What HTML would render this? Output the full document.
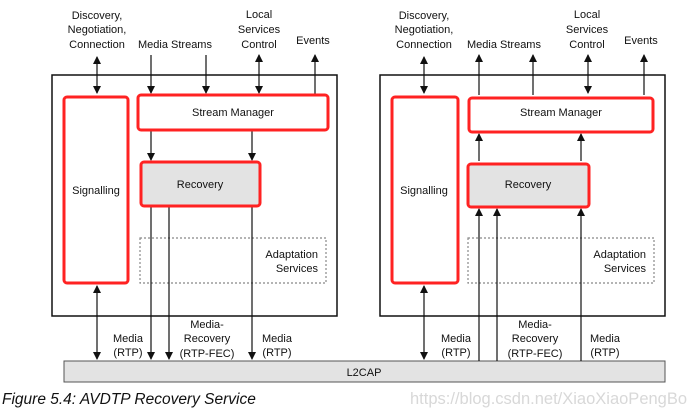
<!DOCTYPE html>
<html><head><meta charset="utf-8"><style>
html,body{margin:0;padding:0;background:#fff;}
svg{display:block;}
text{font-family:"Liberation Sans",sans-serif;fill:#111;}
</style></head><body>
<svg width="692" height="416" viewBox="0 0 692 416" xmlns="http://www.w3.org/2000/svg">
<defs>
<marker id="ah" markerWidth="8" markerHeight="10" refX="7" refY="4" orient="auto" markerUnits="userSpaceOnUse">
<path d="M0,0 L8,4 L0,8 z" fill="#111"/></marker>
<marker id="as" markerWidth="8" markerHeight="10" refX="1" refY="4" orient="auto" markerUnits="userSpaceOnUse">
<path d="M8,0 L0,4 L8,8 z" fill="#111"/></marker>
</defs>

<rect x="64" y="361" width="601" height="21" fill="#e3e3e3" stroke="#555" stroke-width="1"/>
<text x="364" y="376" font-size="11" text-anchor="middle">L2CAP</text>

<g stroke="#111" stroke-width="1.2" fill="none">
<rect x="52" y="75" width="285" height="241" stroke-width="1.5"/>
<rect x="140" y="238" width="186" height="45" stroke="#888" stroke-dasharray="2,2"/>
<line x1="97" y1="57" x2="97" y2="93" marker-start="url(#as)" marker-end="url(#ah)"/>
<line x1="151" y1="55" x2="151" y2="93" marker-end="url(#ah)"/>
<line x1="206" y1="55" x2="206" y2="93" marker-end="url(#ah)"/>
<line x1="259" y1="55" x2="259" y2="93" marker-start="url(#as)" marker-end="url(#ah)"/>
<line x1="315" y1="95" x2="315" y2="55" marker-end="url(#ah)"/>
<line x1="151" y1="131" x2="151" y2="160" marker-end="url(#ah)"/>
<line x1="252" y1="131" x2="252" y2="160" marker-end="url(#ah)"/>
<line x1="151" y1="207" x2="151" y2="359" marker-end="url(#ah)"/>
<line x1="169" y1="207" x2="169" y2="359" marker-end="url(#ah)"/>
<line x1="252" y1="207" x2="252" y2="359" marker-end="url(#ah)"/>
<line x1="97" y1="286" x2="97" y2="359" marker-start="url(#as)" marker-end="url(#ah)"/>
</g>
<rect x="64" y="97" width="64" height="186" rx="3" fill="#fff" stroke="#f22" stroke-width="3"/>
<rect x="138" y="95" width="190" height="35" rx="3" fill="#fff" stroke="#f22" stroke-width="3"/>
<rect x="141" y="162" width="119" height="44" rx="3" fill="#e3e3e3" stroke="#f22" stroke-width="3"/>
<text x="96" y="194" font-size="11" text-anchor="middle">Signalling</text>
<text x="233" y="116" font-size="11" text-anchor="middle">Stream Manager</text>
<text x="200" y="188" font-size="11" text-anchor="middle">Recovery</text>
<text x="318" y="258" font-size="11" text-anchor="end">Adaptation</text>
<text x="318" y="272" font-size="11" text-anchor="end">Services</text>
<g font-size="11" text-anchor="middle">
<text x="97" y="19">Discovery,</text><text x="97" y="33">Negotiation,</text><text x="97" y="48">Connection</text>
<text x="175" y="48">Media Streams</text>
<text x="259" y="18">Local</text><text x="259" y="33">Services</text><text x="259" y="48">Control</text>
<text x="313" y="44">Events</text>
<text x="128" y="342">Media</text><text x="128" y="356">(RTP)</text>
<text x="207" y="328">Media-</text><text x="207" y="342">Recovery</text><text x="207" y="357">(RTP-FEC)</text>
<text x="277" y="342">Media</text><text x="277" y="356">(RTP)</text>
</g>

<g stroke="#111" stroke-width="1.2" fill="none">
<rect x="380" y="75" width="285" height="241" stroke-width="1.5"/>
<rect x="468" y="238" width="186" height="45" stroke="#888" stroke-dasharray="2,2"/>
<line x1="424" y1="57" x2="424" y2="93" marker-start="url(#as)" marker-end="url(#ah)"/>
<line x1="479" y1="95" x2="479" y2="55" marker-end="url(#ah)"/>
<line x1="533" y1="95" x2="533" y2="55" marker-end="url(#ah)"/>
<line x1="588" y1="55" x2="588" y2="93" marker-start="url(#as)" marker-end="url(#ah)"/>
<line x1="644" y1="95" x2="644" y2="55" marker-end="url(#ah)"/>
<line x1="479" y1="161" x2="479" y2="134" marker-end="url(#ah)"/>
<line x1="581" y1="161" x2="581" y2="134" marker-end="url(#ah)"/>
<line x1="479" y1="361" x2="479" y2="209" marker-end="url(#ah)"/>
<line x1="497" y1="361" x2="497" y2="209" marker-end="url(#ah)"/>
<line x1="581" y1="361" x2="581" y2="209" marker-end="url(#ah)"/>
<line x1="424" y1="286" x2="424" y2="359" marker-start="url(#as)" marker-end="url(#ah)"/>
</g>
<rect x="392" y="97" width="66" height="186" rx="3" fill="#fff" stroke="#f22" stroke-width="3"/>
<rect x="469" y="98" width="184" height="34" rx="3" fill="#fff" stroke="#f22" stroke-width="3"/>
<rect x="468" y="164" width="121" height="43" rx="3" fill="#e3e3e3" stroke="#f22" stroke-width="3"/>
<text x="424" y="194" font-size="11" text-anchor="middle">Signalling</text>
<text x="561" y="116" font-size="11" text-anchor="middle">Stream Manager</text>
<text x="528" y="188" font-size="11" text-anchor="middle">Recovery</text>
<text x="646" y="258" font-size="11" text-anchor="end">Adaptation</text>
<text x="646" y="272" font-size="11" text-anchor="end">Services</text>
<g font-size="11" text-anchor="middle">
<text x="424" y="19">Discovery,</text><text x="424" y="33">Negotiation,</text><text x="424" y="48">Connection</text>
<text x="504" y="48">Media Streams</text>
<text x="587" y="18">Local</text><text x="587" y="33">Services</text><text x="587" y="48">Control</text>
<text x="641" y="44">Events</text>
<text x="456" y="342">Media</text><text x="456" y="356">(RTP)</text>
<text x="535" y="328">Media-</text><text x="535" y="342">Recovery</text><text x="535" y="357">(RTP-FEC)</text>
<text x="605" y="342">Media</text><text x="605" y="356">(RTP)</text>
</g>

<text x="2" y="404" font-size="15.5" font-style="italic">Figure 5.4: AVDTP Recovery Service</text>
<text x="410" y="404" font-size="16.5" style="fill:#d8d8d8">https://blog.csdn.net/XiaoXiaoPengBo</text>
</svg>
</body></html>
